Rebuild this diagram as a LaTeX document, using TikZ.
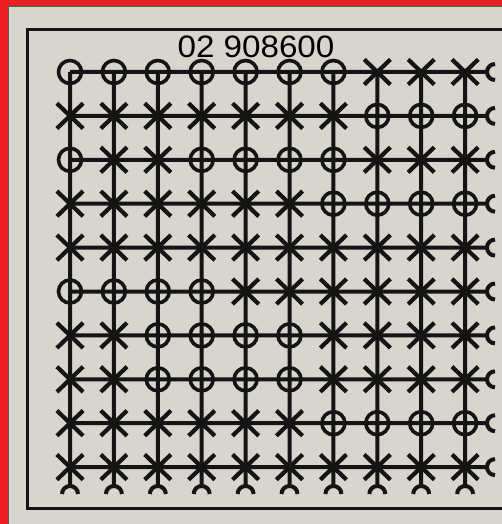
\documentclass[tikz,border=0pt]{standalone}
\usepackage{fontspec}
\setmainfont{Liberation Sans}
\usetikzlibrary{shapes.misc, calc}
\definecolor{pred}{HTML}{EC1D24}
\definecolor{pgray}{HTML}{D8D5CF}
\definecolor{pink}{HTML}{141414}
\tikzset{
  wire/.style={draw=pink, line width=4pt},
  ring/.style={circle, draw=pink, line width=3.6pt, minimum size=23pt, inner sep=0pt},
  cross/.style={cross out, draw=pink, line width=4.2pt, minimum width=22pt, minimum height=21pt, inner sep=0pt},
  frame/.style={draw=pink, line width=3pt},
}
\begin{document}
\begin{tikzpicture}[x=1pt, y=-1pt]
  \useasboundingbox (0,0) rectangle (502,524);

  % paper and red edges
  \fill[pgray] (0,0) rectangle (502,524);
  \fill[pred] (0,0) rectangle (8,524);
  \fill[pred] (0,0) rectangle (502,6);
  \draw[pink!70, line width=0.8pt] (8.5,6.5) -- (8.5,524);
  \draw[pink!70, line width=0.8pt] (8.5,6.5) -- (502,6.5);

  % inner frame
  \draw[frame] (530,30) -- (27,30) -- (27,508) -- (530,508);

  % label
  \node[font=\fontsize{31}{31}\selectfont, inner sep=0pt, xscale=1.07] (code) at (256,47) {02 908600};

  % grid points and ends
  \foreach \r in {1,...,10} {
    \foreach \c in {1,...,10} {
      \coordinate (g-\r-\c) at ({70+43.9*(\c-1)},{72+43.9*(\r-1)});
    }
    \coordinate (e-\r) at (487,{72+43.9*(\r-1)});
  }
  \foreach \c in {1,...,10}
    \coordinate (b-\c) at ({70+43.9*(\c-1)},486);

  % wires
  \foreach \r in {1,...,10}
    \draw[wire] (g-\r-1) -- (e-\r)
      (e-\r) arc[start angle=180, end angle=90, radius=8]
      (e-\r) arc[start angle=180, end angle=270, radius=8];
  \foreach \c in {1,...,10}
    \draw[wire] (g-1-\c) -- (b-\c)
      (b-\c) arc[start angle=270, end angle=180, radius=8]
      (b-\c) arc[start angle=270, end angle=360, radius=8];

  % marks: O = 1, X = 0, rows top to bottom
  \foreach \p [count=\r] in {
      {1,1,1,1,1,1,1,0,0,0},
      {0,0,0,0,0,0,0,1,1,1},
      {1,0,0,1,1,1,1,0,0,0},
      {0,0,0,0,0,0,1,1,1,1},
      {0,0,0,0,0,0,0,0,0,0},
      {1,1,1,1,0,0,0,0,0,0},
      {0,0,1,1,1,1,0,0,0,0},
      {0,0,1,1,1,1,0,0,0,0},
      {0,0,0,0,0,0,1,1,1,1},
      {0,0,0,0,0,0,0,0,0,0}} {
    \foreach \v [count=\c] in \p {
      \ifnum\v=1
        \node[ring] (m-\r-\c) at (g-\r-\c) {};
      \else
        \node[cross] (m-\r-\c) at (g-\r-\c) {};
      \fi
    }
  }
\end{tikzpicture}
\end{document}
